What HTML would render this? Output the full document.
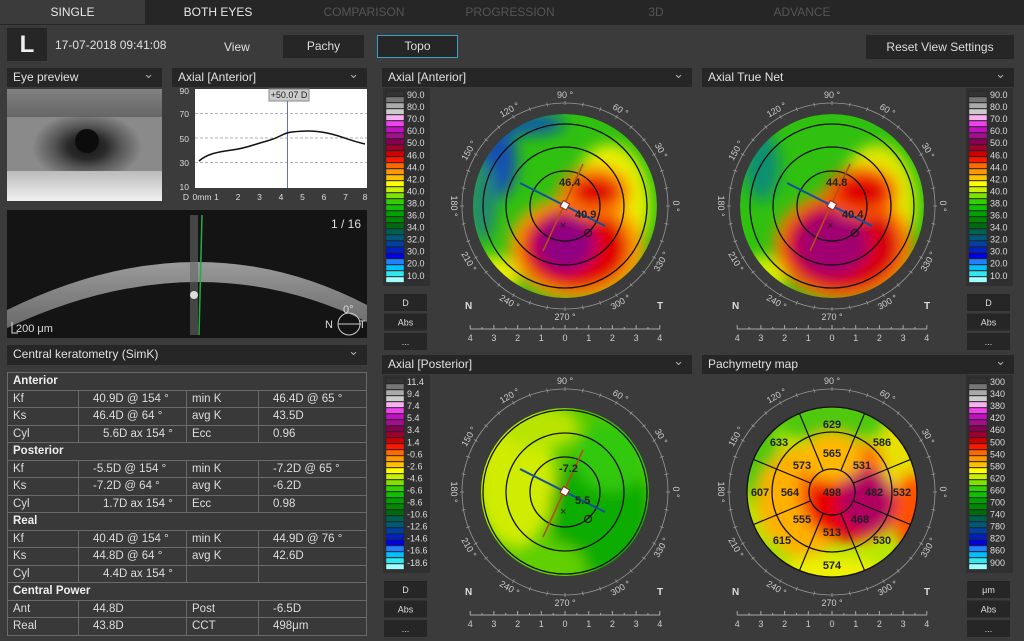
<!DOCTYPE html>
<html><head><meta charset="utf-8">
<style>
*{margin:0;padding:0;box-sizing:border-box}
body{width:1024px;height:641px;background:#3b3b3b;font-family:"Liberation Sans",sans-serif;color:#ddd;overflow:hidden;position:relative}
.a{position:absolute}
.tab{position:absolute;top:0;height:24px;line-height:24px;text-align:center;font-size:12px;background:#262626;color:#555}
.hdr{position:absolute;height:19px;background:#262626;font-size:12px;line-height:19px;padding-left:6px;color:#e0e0e0}
.hdr:after{content:"⌄";position:absolute;right:8px;top:-4px;color:#aaa;font-size:13px}
.btn{position:absolute;background:#262626;color:#ddd;font-size:11px;text-align:center}
table{border-collapse:collapse;position:absolute;left:7px;top:372px;width:360px;font-size:11.5px}
td{border:1px solid #6a6a6a;height:17.5px;padding:0 0 0 5px;color:#ddd;background:#393939}
td.s{font-weight:bold;color:#eee}
</style></head><body>
<div class="a" style="left:0;top:0;width:1024px;height:25px;background:#262626"></div>
<div class="tab" style="left:0;width:145px;background:#3b3b3b;color:#e8e8e8">SINGLE</div>
<div class="tab" style="left:146px;width:144px;color:#e8e8e8">BOTH EYES</div>
<div class="tab" style="left:292px;width:144px">COMPARISON</div>
<div class="tab" style="left:438px;width:144px">PROGRESSION</div>
<div class="tab" style="left:584px;width:144px">3D</div>
<div class="tab" style="left:730px;width:144px">ADVANCE</div>

<div class="a" style="left:7px;top:28px;width:40px;height:33px;background:#262626;color:#eee;font-size:24px;font-weight:bold;text-align:center;line-height:33px">L</div>
<div class="a" style="left:55px;top:38px;font-size:12px;color:#e0e0e0">17-07-2018 09:41:08</div>
<div class="a" style="left:224px;top:40px;font-size:12px;color:#e0e0e0">View</div>
<div class="btn" style="left:283px;top:35px;width:81px;height:23px;line-height:23px;font-size:12px">Pachy</div>
<div class="btn" style="left:377px;top:35px;width:81px;height:23px;line-height:21px;font-size:12px;border:1px solid #3aa0c8">Topo</div>
<div class="btn" style="left:866px;top:35px;width:148px;height:24px;line-height:24px;font-size:12px">Reset View Settings</div>

<div class="hdr" style="left:7px;top:68px;width:155px">Eye preview</div>
<div class="hdr" style="left:172px;top:68px;width:195px">Axial [Anterior]</div>
<div class="hdr" style="left:382px;top:68px;width:310px">Axial [Anterior]</div>
<div class="hdr" style="left:702px;top:68px;width:312px">Axial True Net</div>
<div class="hdr" style="left:382px;top:355px;width:310px">Axial [Posterior]</div>
<div class="hdr" style="left:702px;top:355px;width:312px">Pachymetry map</div>
<div class="hdr" style="left:7px;top:345px;width:360px;height:20px">Central keratometry (SimK)</div>

<!-- eye preview -->
<div class="a" style="left:7px;top:89px;width:155px;height:112px;background:radial-gradient(ellipse 55px 35px at 80px 58px,#151515 0,#2a2a2a 35%,#555 60%,#8a8a8a 100%),#999;overflow:hidden">
<div class="a" style="left:0;top:0;width:155px;height:28px;background:linear-gradient(#808080,#606060);opacity:.85"></div>
<div class="a" style="left:0;top:82px;width:155px;height:30px;background:linear-gradient(#bbb,#f0f0f0)"></div>
<div class="a" style="left:68px;top:40px;width:24px;height:24px;border-radius:50%;background:#0c0c0c"></div>
</div>

<!-- axial chart -->
<svg class="a" style="left:172px;top:86px" width="196" height="118">
<rect x="23" y="3" width="172" height="99" fill="#fff"/>
<g stroke="#999" stroke-dasharray="3,2" stroke-width="0.8"><line x1="23" y1="27.5" x2="195" y2="27.5"/><line x1="23" y1="52" x2="195" y2="52"/><line x1="23" y1="76.5" x2="195" y2="76.5"/></g>
<g font-size="8.5" fill="#ddd" text-anchor="end"><text x="17" y="8">90</text><text x="17" y="31">70</text><text x="17" y="56">50</text><text x="17" y="80">30</text><text x="17" y="104">10</text></g>
<g font-size="8.5" fill="#ddd" text-anchor="middle"><text x="14" y="114">D</text><text x="30" y="114">0mm</text><text x="44.5" y="114">1</text><text x="66" y="114">2</text><text x="87.5" y="114">3</text><text x="109" y="114">4</text><text x="130.5" y="114">5</text><text x="152" y="114">6</text><text x="173.5" y="114">7</text><text x="193" y="114">8</text></g>
<line x1="115.5" y1="3" x2="115.5" y2="102" stroke="#6070c0"/>
<path d="M27 75 C35 68,45 66,60 64 S80 59,95 55 S110 47,120 46 S140 44,155 47 S175 54,193 58" fill="none" stroke="#111" stroke-width="1.5"/>
<rect x="97" y="3" width="40" height="12" fill="#ccc" stroke="#888"/>
<text x="117" y="12" font-size="9" text-anchor="middle" fill="#222">+50.07 D</text>
</svg>

<!-- OCT -->
<svg class="a" style="left:7px;top:210px" width="360" height="128">
<defs><linearGradient id="cg" x1="0" y1="0" x2="0" y2="1"><stop offset="0" stop-color="#9a9a9a"/><stop offset="1" stop-color="#6a6a6a"/></linearGradient></defs>
<rect width="360" height="128" fill="#141414"/>
<path d="M0 100 Q190 6.5 360 95 L360 112 Q190 29 0 118 Z" fill="url(#cg)"/>
<rect x="183" y="5" width="8" height="120" fill="#666" opacity=".6"/>
<circle cx="187" cy="85" r="4" fill="#ddd"/>
<line x1="195" y1="5" x2="192" y2="125" stroke="#20b040" stroke-width="1.5"/>
<text x="354" y="18" font-size="12" fill="#ddd" text-anchor="end">1 / 16</text>
<text x="9" y="122" font-size="11" fill="#ddd">200 μm</text>
<path d="M5 112 V123 H11" stroke="#ddd" fill="none"/>
<circle cx="342" cy="114" r="11" stroke="#ccc" fill="none"/><line x1="331" y1="114" x2="354" y2="114" stroke="#ccc"/>
<text x="336" y="103" font-size="11" fill="#ddd">0°</text><text x="318" y="118" font-size="11" fill="#ddd">N</text><text x="352" y="118" font-size="11" fill="#ddd">T</text>
</svg>

<table>
<tr><td class="s" colspan="4">Anterior</td></tr>
<tr><td style="width:71px">Kf</td><td style="width:108px;padding-left:14px">40.9D @ 154 °</td><td style="width:72px">min K</td><td style="padding-left:14px">46.4D @ 65 °</td></tr>
<tr><td>Ks</td><td style="padding-left:14px">46.4D @ 64 °</td><td>avg K</td><td style="padding-left:14px">43.5D</td></tr>
<tr><td>Cyl</td><td style="padding-left:24px">5.6D ax 154 °</td><td>Ecc</td><td style="padding-left:14px">0.96</td></tr>
<tr><td class="s" colspan="4">Posterior</td></tr>
<tr><td>Kf</td><td style="padding-left:14px">-5.5D @ 154 °</td><td>min K</td><td style="padding-left:14px">-7.2D @ 65 °</td></tr>
<tr><td>Ks</td><td style="padding-left:14px">-7.2D @ 64 °</td><td>avg K</td><td style="padding-left:14px">-6.2D</td></tr>
<tr><td>Cyl</td><td style="padding-left:24px">1.7D ax 154 °</td><td>Ecc</td><td style="padding-left:14px">0.98</td></tr>
<tr><td class="s" colspan="4">Real</td></tr>
<tr><td>Kf</td><td style="padding-left:14px">40.4D @ 154 °</td><td>min K</td><td style="padding-left:14px">44.9D @ 76 °</td></tr>
<tr><td>Ks</td><td style="padding-left:14px">44.8D @ 64 °</td><td>avg K</td><td style="padding-left:14px">42.6D</td></tr>
<tr><td>Cyl</td><td style="padding-left:24px">4.4D ax 154 °</td><td></td><td></td></tr>
<tr><td class="s" colspan="4">Central Power</td></tr>
<tr><td>Ant</td><td style="padding-left:14px">44.8D</td><td>Post</td><td style="padding-left:14px">-6.5D</td></tr>
<tr><td>Real</td><td style="padding-left:14px">43.8D</td><td>CCT</td><td style="padding-left:14px">498μm</td></tr>
</table>

<svg id="g" class="a" style="left:0;top:0" width="1024" height="641"></svg>

<script>
var cols=["#333","#777","#aaa","#ccc","#f8b0f0","#f040f0","#c010c0","#a0108a","#880050","#a00030","#d00000","#ff1800","#ff6a00","#ff9800","#ffc000","#ffff00","#c8f000","#80e000","#30d000","#10c000","#00a000","#008800","#006a10","#006050","#005878","#0040a0","#0020c0","#0000e0","#2080ff","#00c0ff","#30e8f0","#a0ffff"];
var L={a:["90.0","80.0","70.0","60.0","50.0","46.0","44.0","42.0","40.0","38.0","36.0","34.0","32.0","30.0","20.0","10.0"],
p:["11.4","9.4","7.4","5.4","3.4","1.4","-0.6","-2.6","-4.6","-6.6","-8.6","-10.6","-12.6","-14.6","-16.6","-18.6"],
t:["300","340","380","420","460","500","540","580","620","660","700","740","780","820","860","900"]};
var s="";
function scale(x,y,lab,unit){
 s+='<rect x="'+(x)+'" y="'+(y)+'" width="47" height="198" fill="#303030"/>';
 for(var i=0;i<32;i++){s+='<rect x="'+(x+3)+'" y="'+(y+3+i*6)+'" width="18" height="5.4" fill="'+cols[i]+'" stroke="#222" stroke-width=".4"/>';}
 for(var i=0;i<16;i++){s+='<text x="'+(x+24)+'" y="'+(y+10+i*12.05)+'" font-size="9" fill="#ddd">'+lab[i]+'</text>';}
 var b=[unit,"Abs","..."];
 for(var i=0;i<3;i++){s+='<rect x="'+(x+1)+'" y="'+(y+206+i*19.5)+'" width="43" height="17" fill="#262626"/><text x="'+(x+22.5)+'" y="'+(y+218+i*19.5)+'" font-size="9" fill="#ddd" text-anchor="middle">'+b[i]+'</text>';}
}
function frame(cx,cy){
 s+='<circle cx="'+cx+'" cy="'+cy+'" r="103" fill="none" stroke="#999" stroke-width="0.8"/>';
 for(var a=0;a<360;a+=10){var r=a*Math.PI/180;s+='<line x1="'+(cx+101*Math.cos(r))+'" y1="'+(cy-101*Math.sin(r))+'" x2="'+(cx+105*Math.cos(r))+'" y2="'+(cy-105*Math.sin(r))+'" stroke="#999" stroke-width=".8"/>';}
 for(var a=0;a<360;a+=30){var r=a*Math.PI/180,tx=cx+111*Math.cos(r),ty=cy-111*Math.sin(r);
  var rot=(a>180)?(270-a):(90-a); if(a==180)rot=90;
  s+='<text transform="translate('+tx+','+ty+') rotate('+rot+')" font-size="9" fill="#ccc" text-anchor="middle" dy="3">'+a+' °</text>';}
 s+='<text x="'+(cx-100)+'" y="'+(cy+103)+'" font-size="10" font-weight="bold" fill="#ddd">N</text><text x="'+(cx+92)+'" y="'+(cy+103)+'" font-size="10" font-weight="bold" fill="#ddd">T</text>';
 var ay=cy+123;s+='<line x1="'+(cx-95)+'" y1="'+ay+'" x2="'+(cx+95)+'" y2="'+ay+'" stroke="#aaa"/>';
 for(var i=-8;i<=8;i++){var x=cx+i*11.85;s+='<line x1="'+x+'" y1="'+(ay-(i%2?2:4))+'" x2="'+x+'" y2="'+ay+'" stroke="#aaa"/>';if(i%2==0)s+='<text x="'+x+'" y="'+(ay+12)+'" font-size="9" fill="#ccc" text-anchor="middle">'+Math.abs(i/2)+'</text>';}
}
function blob(id,cx,cy,items,base,r){
 s+='<clipPath id="c'+id+'"><circle cx="'+cx+'" cy="'+cy+'" r="'+r+'"/></clipPath><filter id="f'+id+'" x="-50%" y="-50%" width="200%" height="200%"><feGaussianBlur stdDeviation="7"/></filter>';
 s+='<g clip-path="url(#c'+id+')"><circle cx="'+cx+'" cy="'+cy+'" r="'+r+'" fill="'+base+'"/><g filter="url(#f'+id+')">';
 items.forEach(function(e){s+='<ellipse cx="'+(cx+e[0])+'" cy="'+(cy+e[1])+'" rx="'+e[2]+'" ry="'+e[3]+'" fill="'+e[4]+'"/>';});
 s+='</g></g>';
}
function rings(cx,cy,rs){rs.forEach(function(r){s+='<circle cx="'+cx+'" cy="'+cy+'" r="'+r+'" fill="none" stroke="#111" stroke-width="1.3"/>';});}
function axes(cx,cy,t1,t2){
 s+='<line x1="'+(cx-45)+'" y1="'+(cy-23)+'" x2="'+(cx+40)+'" y2="'+(cy+20)+'" stroke="#1050a0" stroke-width="2"/>';
 s+='<line x1="'+(cx-22)+'" y1="'+(cy+45)+'" x2="'+(cx+18)+'" y2="'+(cy-42)+'" stroke="#b05018" stroke-width="1.6"/>';
 s+='<rect x="'+(cx-4)+'" y="'+(cy-4)+'" width="7" height="7" fill="#fff" stroke="#a02020" transform="rotate(30 '+cx+' '+cy+')"/>';
 s+='<text x="'+(cx-5)+'" y="'+(cy+23)+'" font-size="11" fill="#222">×</text><circle cx="'+(cx+23)+'" cy="'+(cy+27)+'" r="3.5" fill="none" stroke="#222" stroke-width="1.2"/>';
 s+='<text x="'+(cx-6)+'" y="'+(cy-20)+'" font-size="11" font-weight="bold" fill="#222">'+t1+'</text><text x="'+(cx+10)+'" y="'+(cy+12)+'" font-size="11" font-weight="bold" fill="#222">'+t2+'</text>';
}
scale(383,88,L.a,"D");scale(966,88,L.a,"D");scale(383,375,L.p,"D");scale(966,375,L.t,"μm");
var A=[565,206];frame(A[0],A[1]);
blob("1",A[0],A[1],[[-68,-45,20,38,"#1850b0"],[-82,-5,14,40,"#208870"],[-40,-82,40,12,"#1060a0"],[45,0,40,62,"#e8f000"],[-70,72,22,22,"#e8f000"],[12,42,68,52,"#ffa000"],[10,42,54,42,"#e00000"],[0,38,30,28,"#900080"],[30,-14,36,26,"#ff8000"],[30,-14,24,15,"#e00000"]],"#30c010",92);
rings(A[0],A[1],[35,59,82]);axes(A[0],A[1],"46.4","40.9");
var B=[832,206];frame(B[0],B[1]);
blob("2",B[0],B[1],[[-70,-40,18,35,"#109070"],[45,0,40,62,"#e0e800"],[-70,72,22,22,"#d0f000"],[12,40,70,55,"#ff8000"],[10,40,58,46,"#d80010"],[0,38,36,32,"#a00070"],[30,-14,36,26,"#ff6000"],[30,-14,26,17,"#e00000"]],"#30c010",92);
rings(B[0],B[1],[35,59,82]);axes(B[0],B[1],"44.8","40.4");
var C=[565,492];frame(C[0],C[1]);
blob("3",C[0],C[1],[[-50,-15,40,70,"#d0ec00"],[-25,-65,40,22,"#b8e400"],[35,20,50,62,"#10ac00"],[45,-35,35,35,"#30c810"],[-20,72,40,22,"#60d000"]],"#50c800",84);
rings(C[0],C[1],[35,59,82]);axes(C[0],C[1],"-7.2","5.5");
var D=[832,492];frame(D[0],D[1]);
blob("4",D[0],D[1],[[0,-72,60,22,"#50c810"],[-72,-30,20,45,"#50c810"],[-30,10,45,55,"#ffb000"],[20,0,55,50,"#ff7000"],[15,10,40,40,"#e80000"],[35,10,28,32,"#b00060"],[0,-35,30,25,"#ffb800"],[70,-40,20,40,"#e8e000"],[0,80,50,15,"#f0f000"],[-70,70,25,25,"#a0e000"],[80,20,18,40,"#ff5000"]],"#b8e800",85);
rings(D[0],D[1],[23,60,85]);
for(var k=0;k<8;k++){var r=(k*45+22.5)*Math.PI/180;s+='<line x1="'+(D[0]+23*Math.cos(r))+'" y1="'+(D[1]-23*Math.sin(r))+'" x2="'+(D[0]+85*Math.cos(r))+'" y2="'+(D[1]-85*Math.sin(r))+'" stroke="#111" stroke-width="1.2"/>';}
[["498",0,0],["482",42,0],["532",70,0],["565",0,-39],["573",-30,-27],["531",30,-27],["564",-42,0],["607",-72,0],["629",0,-68],["633",-53,-50],["586",50,-50],["555",-30,27],["513",0,40],["468",28,27],["615",-50,48],["574",0,73],["530",50,48]].forEach(function(p){s+='<text x="'+(D[0]+p[1])+'" y="'+(D[1]+p[2]+4)+'" font-size="11" font-weight="bold" fill="#222" text-anchor="middle">'+p[0]+'</text>';});
document.getElementById("g").innerHTML=s;
</script>
</body></html>
